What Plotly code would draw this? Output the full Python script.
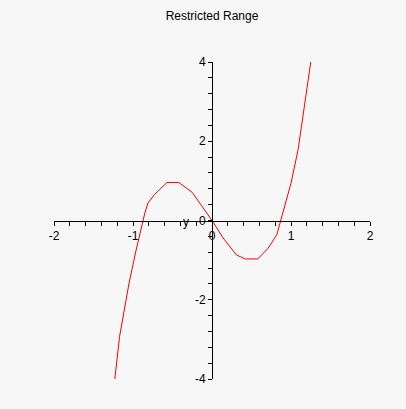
import plotly.graph_objects as go

# Sampled points of the cubic, clipped to the restricted y-range
x_vals = [-1.23, -1.17, -1.05, -0.96, -0.85, -0.81, -0.73, -0.57, -0.42, -0.25, 0.0,
          0.14, 0.31, 0.42, 0.58, 0.71, 0.82, 0.88, 1.00, 1.09, 1.19, 1.25]
y_vals = [-4.0, -2.93, -1.58, -0.74, 0.19, 0.44, 0.65, 0.96, 0.96, 0.71, 0.0,
          -0.44, -0.87, -0.97, -0.97, -0.70, -0.36, 0.06, 0.94, 1.79, 3.13, 4.0]

x_range = [-2, 2]
y_range = [-4, 4]
x_ticks = [-2, -1, 0, 1, 2]
y_ticks = [-4, -2, 0, 2, 4]

title_text = "Restricted Range"
y_label = "y"

font_family = "Liberation Sans, Arial, sans-serif"
bg = "#f7f7f7"

fig = go.Figure()
fig.add_trace(go.Scatter(
    x=x_vals, y=y_vals, mode="lines",
    line=dict(color="#ff0000", width=1),
    hoverinfo="skip", showlegend=False,
))

axis_common = dict(
    showline=True, linecolor="black", linewidth=1,
    ticks="outside", ticklen=4, tickwidth=1, tickcolor="black",
    showgrid=False, zeroline=False,
    tickfont=dict(family=font_family, size=12, color="black"),
    anchor="free", position=0.5, fixedrange=True,
)

fig.update_layout(
    width=406, height=409,
    margin=dict(l=54, r=36, t=62, b=30),
    paper_bgcolor=bg, plot_bgcolor=bg,
    font=dict(family=font_family, size=12, color="black"),
    title=dict(text=title_text, x=0.5, xref="paper", xanchor="center",
               y=1 - 16 / 409, yref="container", yanchor="middle",
               font=dict(family=font_family, size=12, color="black")),
    xaxis=dict(range=x_range, tickvals=x_ticks, ticktext=[str(v) for v in x_ticks],
               minor=dict(dtick=0.2, tick0=0, ticks="outside", ticklen=4,
                          tickcolor="black", tickwidth=1, showgrid=False),
               **axis_common),
    yaxis=dict(range=y_range, tickvals=y_ticks, ticktext=[str(v) for v in y_ticks],
               minor=dict(dtick=0.4, tick0=0, ticks="outside", ticklen=4,
                          tickcolor="black", tickwidth=1, showgrid=False),
               **axis_common),
    annotations=[dict(text=y_label, x=-0.33, y=0, xref="x", yref="y",
                      xanchor="center", yanchor="middle", yshift=-1,
                      showarrow=False,
                      font=dict(family=font_family, size=12, color="black"))],
)

fig.write_html("out.html")
